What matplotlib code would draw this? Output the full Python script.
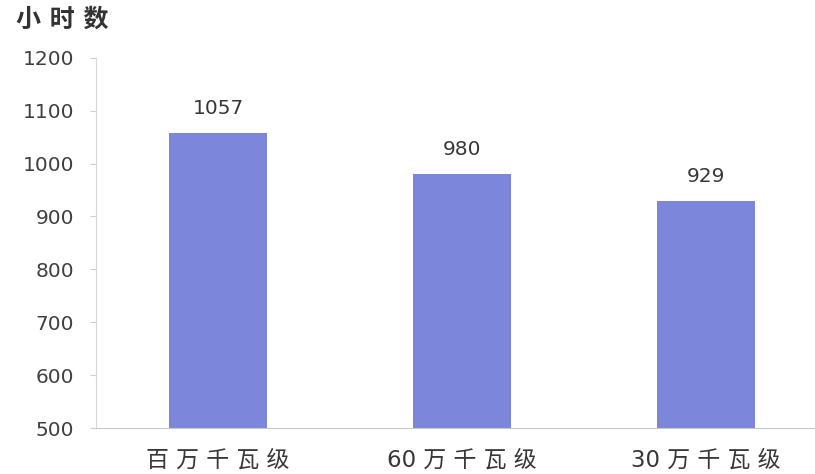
import matplotlib
matplotlib.use("Agg")
import matplotlib.pyplot as plt

plt.rcParams['font.family'] = ['DejaVu Sans', 'Noto Sans CJK SC']

categories = ['百万千瓦级', '60万千瓦级', '30万千瓦级']
hours = [1057, 980, 929]
yticks = [500, 600, 700, 800, 900, 1000, 1100, 1200]


def spaced(s):
    # put a space between the characters, keeping leading digits together
    head = s.rstrip('百万千瓦级')
    tail = s[len(head):]
    parts = ([head] if head else []) + list(tail)
    return ' '.join(parts)


fig = plt.figure(figsize=(8.15, 4.74), dpi=100)
ax = fig.add_axes([0.118, 0.097, 0.898, 0.781])

x = range(len(categories))
bars = ax.bar(x, hours, width=0.4, color='#7C86DB')
ax.set_ylim(500, 1200)
ax.set_xlim(-0.5, 2.5)
ax.set_yticks(yticks)
ax.set_xticks(list(x))
ax.set_xticklabels([spaced(c) for c in categories], fontsize=16.5,
                   color='#383838')
ax.tick_params(axis='y', labelsize=14.5, labelcolor='#404040', length=4,
               color='#d0d0d0', pad=12)
ax.tick_params(axis='x', length=0, pad=15)

for b, v in zip(bars, hours):
    ax.annotate(str(v), (b.get_x() + b.get_width() / 2, v),
                xytext=(0, 11), textcoords='offset points',
                ha='center', va='bottom', fontsize=14.5, color='#383838')

for s in ['top', 'right']:
    ax.spines[s].set_visible(False)
ax.spines['left'].set_color('#d8d8d8')
ax.spines['bottom'].set_color('#c8c8c8')

fig.text(0.02, 0.958, '小 时 数', fontsize=18, fontweight='bold',
         color='#333333', va='center', ha='left')

fig.savefig('out.png', dpi=100)
